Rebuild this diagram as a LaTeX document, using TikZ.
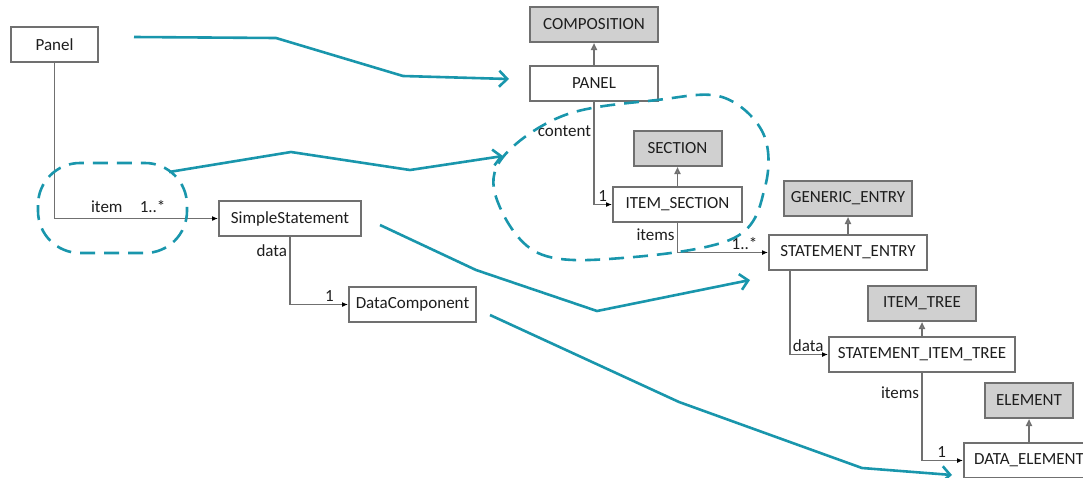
\documentclass[tikz,border=0pt]{standalone}
\usepackage{fontspec}
\setmainfont{Carlito}
\usepackage{tikz}
\usetikzlibrary{arrows.meta, positioning}

\definecolor{boxline}{RGB}{112,112,112}
\definecolor{boxgray}{RGB}{208,208,208}
\definecolor{linkteal}{RGB}{25,150,172}
\definecolor{txtgray}{RGB}{30,30,30}

\begin{document}
\begin{tikzpicture}[x=1pt, y=-1pt,
    cls/.style={draw=boxline, line width=2pt, fill=white, minimum height=35pt, inner sep=0pt, text=txtgray, font=\fontsize{17}{20}\selectfont},
    supercls/.style={cls, fill=boxgray},
    assoc/.style={draw=boxline, line width=1.8pt, -{Latex[length=6pt, width=5pt, color=black]}},
    gen/.style={draw=boxline, line width=1.8pt, -{Triangle[open, length=7pt, width=6pt]}},
    lbl/.style={text=txtgray, font=\fontsize{17}{20}\selectfont, inner sep=2pt},
    maplink/.style={draw=linkteal, line width=2.6pt, -{Straight Barb[length=8pt, width=16pt]}},
    hilite/.style={draw=linkteal, line width=2.6pt, dash pattern=on 15pt off 9pt}]
  \useasboundingbox (0,0) rectangle (1083,477);
  \clip (0,0) rectangle (1083,477);

  % left model
  \node[cls, minimum width=87pt] (panel) at (54.5,44.5) {Panel};
  \node[cls, minimum width=142pt] (simple) at (290,218.5) {SimpleStatement};
  \node[cls, minimum width=127pt] (datacomp) at (412.5,304.5) {DataComponent};

  % right model
  \node[cls, minimum width=128pt] (panelU) at (594,83.5) {PANEL};
  \node[cls, minimum width=129pt] (isec) at (677.5,204.5) {ITEM\_SECTION};
  \node[cls, minimum width=158pt] (sentry) at (848,252.5) {STATEMENT\_ENTRY};
  \node[cls, minimum width=186pt] (sit) at (922,354.5) {STATEMENT\_ITEM\_TREE};
  \node[cls, minimum width=130pt] (delem) at (1029,460.5) {DATA\_ELEMENT};

  \node[supercls, minimum width=128pt, above=22pt of panelU] (comp) {COMPOSITION};
  \node[supercls, minimum width=88pt, above=19pt of isec] (section) {SECTION};
  \node[supercls, minimum width=128pt, above=17pt of sentry] (generic) {GENERIC\_ENTRY};
  \node[supercls, minimum width=108pt, above=14pt of sit] (itemtree) {ITEM\_TREE};
  \node[supercls, minimum width=88pt, above=23pt of delem] (element) {ELEMENT};

  \foreach \c/\p in {panelU/comp, isec/section, sentry/generic, sit/itemtree, delem/element}
    \draw[gen] (\c) -- (\p);

  \draw[assoc] (panel.south) |- (simple.west)
    node[lbl, pos=0.66, above=3pt] {item} node[lbl, pos=0.80, above=3pt] {1..*};
  \draw[assoc] (simple.south) |- (datacomp.west)
    node[lbl, pos=0.1, left] {data} node[lbl, pos=0.84, above] {1};
  \draw[assoc] (panelU.south) |- (isec.west)
    node[lbl, pos=0.14, left] {content} node[lbl, pos=0.74, above] {1};
  \draw[assoc] (isec.south) |- (sentry.west)
    node[lbl, pos=0.2, left] {items} node[lbl, pos=0.87, above] {1..*};
  \draw[assoc] ([xshift=22pt]sentry.south west) |- (sit.west)
    node[lbl, pos=0.74, above] {data};
  \draw[assoc] (sit.south) |- (delem.west)
    node[lbl, pos=0.11, left] {items} node[lbl, pos=0.74, above] {1};

  % mapping
  \coordinate (m1a) at (134,37);   \coordinate (m1b) at (509,79);
  \coordinate (m2a) at (169,172);  \coordinate (m2b) at (503,156);
  \coordinate (m3a) at (380,225);  \coordinate (m3b) at (750,280);
  \coordinate (m4a) at (490,315);  \coordinate (m4b) at (952,475);
  \draw[maplink] (m1a) -- (276,38) -- (403,76) -- (m1b);
  \draw[maplink] (m2a) -- (291,152) -- (410,170) -- (m2b);
  \draw[maplink] (m3a) -- (476,270) -- (597,311) -- (m3b);
  \draw[maplink] (m4a) -- (679,402) -- (862,468) -- (m4b);

  \draw[hilite, rounded corners=42pt] (38,163) rectangle (187,253);
  \draw[hilite] plot[smooth cycle, tension=0.6] coordinates {(497,200) (538,253) (622,258) (734,238) (765,187) (763,133) (722,97) (657,100) (565,115) (503,157)};
\end{tikzpicture}
\end{document}
